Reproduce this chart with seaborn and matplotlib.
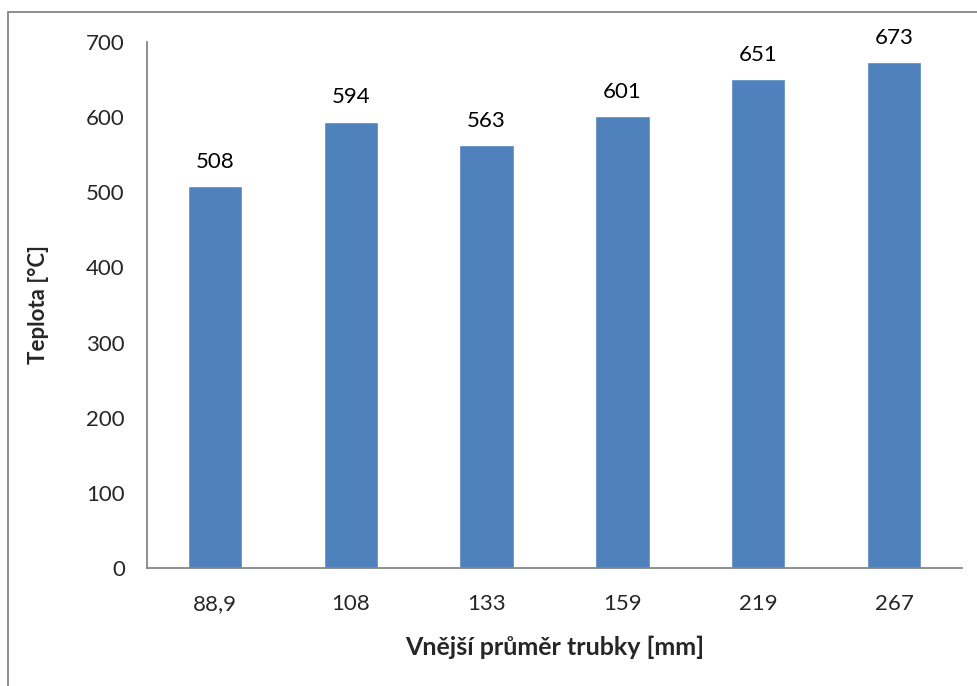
import matplotlib
matplotlib.use("Agg")
import matplotlib.pyplot as plt
import seaborn as sns
import pandas as pd
import numpy as np
from matplotlib.patches import Rectangle

categories = ["88,9", "108", "133", "159", "219", "267"]
values = [508, 594, 563, 601, 651, 673]
yticks = [0, 100, 200, 300, 400, 500, 600, 700]

sns.set_theme(style="white")
plt.rcParams['font.family'] = ['Lato', 'DejaVu Sans']

df = pd.DataFrame({"cat": categories, "val": values})

fig = plt.figure(figsize=(9.78, 6.86), dpi=100)
ax = fig.add_axes([147/978, 1-568/686, (962-147)/978, (568-42)/686])

sns.barplot(data=df, x="cat", y="val", color="#4F81BD", saturation=1,
            width=0.4, ax=ax, order=categories)

ax.set_xlim(-0.5, len(categories) - 0.5)
ax.set_ylim(0, 700)
ax.set_yticks(yticks)
ax.set_yticklabels([str(t) for t in yticks], fontsize=16)

ax.set_xticks(range(len(categories)))
ax.set_xticklabels(categories, fontsize=16)
ax.tick_params(axis="x", which="major", length=0, pad=19)
ax.set_xticks(np.arange(-0.5, len(categories), 1.0), minor=True)
ax.tick_params(axis="x", which="minor", length=8, color="#868686", width=1.3, direction="out")
ax.tick_params(axis="y", which="major", length=8, color="#868686", width=1.3, direction="out", pad=8)

for s in ["top", "right"]:
    ax.spines[s].set_visible(False)
for s in ["left", "bottom"]:
    ax.spines[s].set_color("#868686")
    ax.spines[s].set_linewidth(1.3)

for i, v in enumerate(values):
    ax.text(i, v + 19, str(v), ha="center", va="bottom", fontsize=16, color="black")

ax.set_ylabel("Teplota [°C]", fontsize=16, fontweight="bold", labelpad=27)
ax.set_xlabel("Vnější průměr trubky [mm]", fontsize=18, fontweight="bold", labelpad=15)

fig.patches.append(Rectangle((8/978, -0.1), 1.2, 1 - 12/686 + 0.1, transform=fig.transFigure,
                             fill=False, edgecolor="#868686", linewidth=1.3, zorder=-1))

fig.savefig("out.png", dpi=100)
